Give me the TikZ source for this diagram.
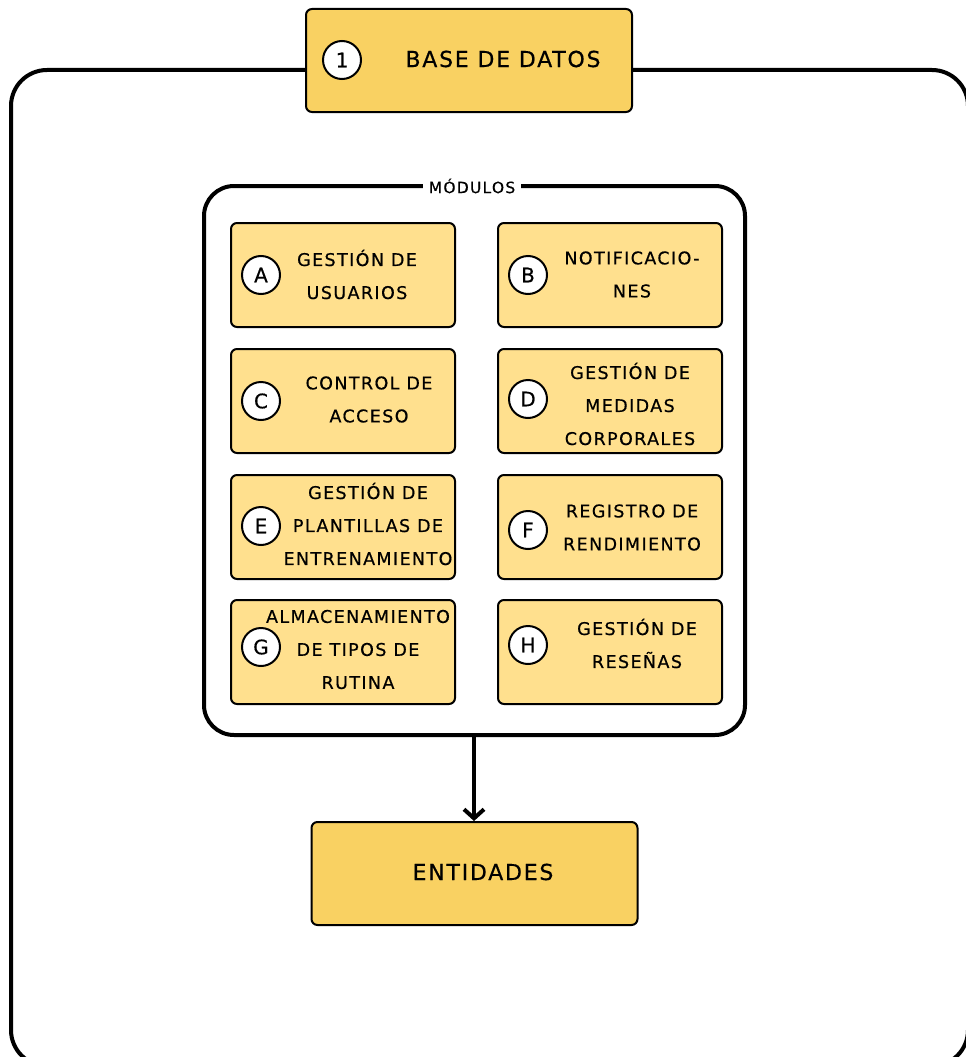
\documentclass[tikz,border=0pt]{standalone}
\usepackage{fontspec}
\setmainfont{DejaVu Sans}[LetterSpace=8, FakeBold=0.5]
\usetikzlibrary{arrows.meta}
\definecolor{hdrfill}{HTML}{F9D162}
\definecolor{modfill}{HTML}{FFE08E}
\tikzset{
  frame/.style={draw=black, line width=4pt, rounded corners=34pt},
  bigbox/.style={draw=black, fill=hdrfill, line width=2pt, rounded corners=6pt,
    minimum width=326pt, minimum height=103pt, inner sep=0pt},
  modbox/.style={draw=black, fill=modfill, line width=2pt, rounded corners=6pt,
    minimum width=224pt, minimum height=104pt, inner sep=0pt},
  tag/.style={draw=black, fill=white, circle, line width=2pt, minimum size=38pt,
    inner sep=0pt, font=\fontsize{20}{20}\selectfont},
  modtext/.style={align=center, inner sep=0pt, font=\fontsize{17.5}{33}\selectfont},
  bigtext/.style={inner sep=0pt, font=\fontsize{22}{22}\selectfont},
}
\begin{document}
\begin{tikzpicture}[x=1pt, y=-1pt]
\useasboundingbox (0,0) rectangle (966,1057);
\clip (0,0) rectangle (966,1057);

% outer frame of the database
\draw[frame, rounded corners=36pt] (11,70) rectangle (968,1066);

% header box
\node[bigbox] (db) at (469,60.5) {};
\node[tag] (t1) at (342,60) {1};
\node[bigtext] (dbt) at (503,59) {BASE DE DATOS};

% modules frame
\node[frame, minimum width=541pt, minimum height=549pt, inner sep=0pt, rounded corners=30pt] (mods) at (474.5,460.5) {};
\node[fill=white, inner xsep=6pt, inner ysep=2pt, font=\fontsize{15.5}{15.5}\selectfont] (modlbl) at (472,186) {MÓDULOS};

% module boxes
\node[modbox] (A) at (343,275) {};
\node[modbox] (B) at (610,275) {};
\node[modbox] (C) at (343,401) {};
\node[modbox] (D) at (610,401) {};
\node[modbox] (E) at (343,527) {};
\node[modbox] (F) at (610,527) {};
\node[modbox] (G) at (343,652) {};
\node[modbox] (H) at (610,652) {};

\node[tag] (tA) at (261,275) {A};
\node[tag] (tB) at (528,275) {B};
\node[tag] (tC) at (261,401) {C};
\node[tag] (tD) at (528,399) {D};
\node[tag] (tE) at (261,526) {E};
\node[tag] (tF) at (528,530) {F};
\node[tag] (tG) at (261,647) {G};
\node[tag] (tH) at (528,645) {H};

\node[modtext] (xA) at (357,274.5) {GESTIÓN DE\\USUARIOS};
\node[modtext] (xB) at (632,274.5) {NOTIFICACIO-\\NES};
\node[modtext] (xC) at (369,399.5) {CONTROL DE\\ACCESO};
\node[modtext] (xD) at (630,404) {GESTIÓN DE\\MEDIDAS\\CORPORALES};
\node[modtext] (xE) at (368,524) {GESTIÓN DE\\PLANTILLAS DE\\ENTRENAMIENTO};
\node[modtext] (xF) at (632,527.5) {REGISTRO DE\\RENDIMIENTO};
\node[modtext] (xG) at (358,649.5) {ALMACENAMIENTO\\DE TIPOS DE\\RUTINA};
\node[modtext] (xH) at (637,643.5) {GESTIÓN DE\\RESEÑAS};

% entities box
\node[bigbox] (ent) at (474.5,873.5) {};
\node[bigtext] (entt) at (483,872) {ENTIDADES};

\draw[line width=4pt, -{Straight Barb[length=9pt, width=20pt, line width=4pt]}] (474,735) -- (ent.north -| 474,735);
\end{tikzpicture}
\end{document}
